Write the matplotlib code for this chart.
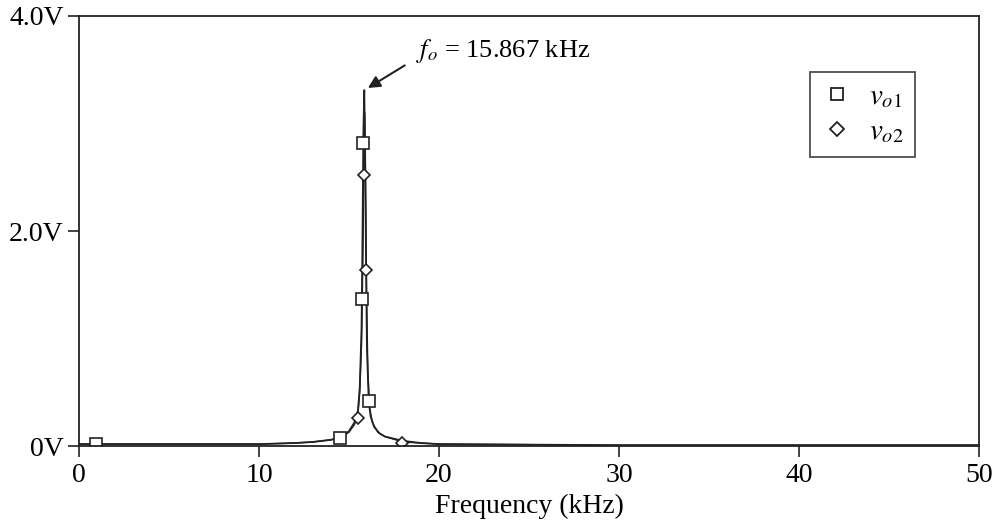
import matplotlib
matplotlib.use("Agg")
import matplotlib.pyplot as plt
from matplotlib.lines import Line2D

plt.rcParams['font.family'] = ['Liberation Serif', 'DejaVu Serif']
plt.rcParams['mathtext.fontset'] = 'stix'

# response curves (kHz, V)
freq1 = [0.0, 1.0, 5.0, 10.0, 12.0, 13.0, 14.0, 14.5, 15.0, 15.3, 15.5, 15.6, 15.7,
         15.75, 15.8, 15.85, 15.9, 15.95, 16.0, 16.1, 16.2, 16.4, 16.7, 17.0, 18.0,
         19.0, 20.0, 25.0, 30.0, 40.0, 50.0]
vo1 = [0.02, 0.02, 0.02, 0.02, 0.03, 0.04, 0.06, 0.08, 0.14, 0.22, 0.33, 0.55, 1.1,
       1.9, 2.9, 3.31, 2.7, 1.7, 0.9, 0.42, 0.28, 0.18, 0.12, 0.09, 0.05,
       0.03, 0.02, 0.015, 0.01, 0.01, 0.01]
freq2 = [0.0, 1.0, 5.0, 10.0, 12.0, 13.0, 14.0, 14.5, 15.0, 15.3, 15.5, 15.6, 15.7,
         15.78, 15.83, 15.88, 15.93, 15.98, 16.05, 16.15, 16.3, 16.6, 17.0, 18.0,
         19.0, 20.0, 25.0, 30.0, 40.0, 50.0]
vo2 = [0.02, 0.02, 0.02, 0.02, 0.03, 0.04, 0.06, 0.08, 0.13, 0.2, 0.3, 0.5, 0.95,
       1.8, 2.6, 3.1, 2.3, 1.4, 0.7, 0.36, 0.22, 0.13, 0.09, 0.04,
       0.03, 0.02, 0.015, 0.01, 0.01, 0.01]

# marker samples
mk1_f = [0.94, 14.5, 15.72, 15.78, 16.1]
mk1_v = [0.02, 0.08, 1.37, 2.82, 0.42]
mk2_f = [15.5, 15.83, 15.94, 17.94]
mk2_v = [0.26, 2.52, 1.64, 0.03]

fig = plt.figure(figsize=(9.99, 5.30), dpi=100)
ax = fig.add_axes([0.079, 0.158, 0.901, 0.812])

ax.plot(freq1, vo1, color='#222222', lw=1.3)
ax.plot(freq2, vo2, color='#222222', lw=1.0)
ax.plot(mk1_f, mk1_v, 's', ms=8, mfc='white', mec='#222222', mew=1.2, ls='none')
ax.plot(mk2_f, mk2_v, 'D', ms=6, mfc='white', mec='#222222', mew=1.2, ls='none')

ax.set_xlim(0, 50)
ax.set_ylim(0, 4.0)
ax.set_xticks([0, 10, 20, 30, 40, 50])
ax.set_yticks([0, 2.0, 4.0])
ax.set_yticklabels(['0V', '2.0V', '4.0V'])
ax.tick_params(axis='both', direction='out', length=8, width=1.2, labelsize=20, color='#222222')
ax.tick_params(axis='x', pad=4)
ax.tick_params(axis='y', pad=3)
for s in ax.spines.values():
    s.set_color('#222222')
    s.set_linewidth(1.3)
ax.set_xlabel('Frequency (kHz)', fontsize=20, labelpad=4)

# peak label and arrow
ax.text(18.7, 3.67, '$f_o$ = 15.867 kHz', fontsize=19, va='center', ha='left')
ax.annotate('', xy=(16.05, 3.33), xytext=(18.1, 3.54),
            arrowprops=dict(arrowstyle='-|>', color='#222222', lw=1.5,
                            mutation_scale=18, shrinkA=0, shrinkB=0))

handles = [Line2D([], [], marker='s', ms=9, mfc='white', mec='#222222', mew=1.3, ls='none'),
           Line2D([], [], marker='D', ms=7, mfc='white', mec='#222222', mew=1.3, ls='none')]
leg = ax.legend(handles, [r'$v_{o\mathrm{1}}$', r'$v_{o\mathrm{2}}$'],
                loc='upper right', bbox_to_anchor=(0.929, 0.870), fontsize=21,
                frameon=True, fancybox=False, edgecolor='#222222',
                handlelength=1.0, handletextpad=0.6, borderpad=0.4, labelspacing=0.3,
                borderaxespad=0)
leg.get_frame().set_linewidth(1.3)

fig.savefig('out.png', dpi=100)
